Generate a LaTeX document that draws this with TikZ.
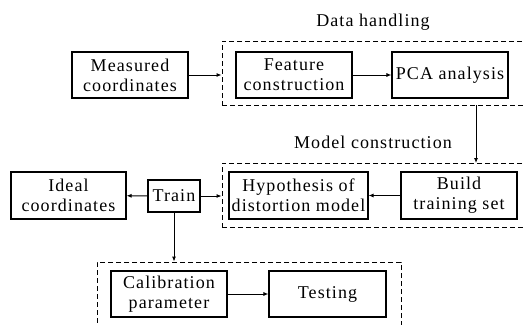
\documentclass[tikz,border=0pt]{standalone}
\usepackage{fontspec}
\setmainfont{Liberation Serif}[LetterSpace=6]
\usetikzlibrary{arrows.meta}
\tikzset{
    block/.style={shape=rectangle, draw=black, line width=1.1pt, align=center, inner sep=1pt,
        font=\fontsize{18}{20}\selectfont},
    group/.style={shape=rectangle, draw=black, line width=0.9pt, dash pattern=on 5pt off 3pt},
    title/.style={font=\fontsize{18}{20}\selectfont},
    flow/.style={-{Latex[length=5pt,width=4pt]}, line width=0.9pt}
}
\begin{document}
\begin{tikzpicture}[x=1pt, y=-1pt]
    \useasboundingbox (0,0) rectangle (524,324);
    \clip (0,0) rectangle (524,324);
    % dashed groups
    \node[group, minimum width=318pt, minimum height=64pt] (DH) at (381,73) {};
    \node[group, minimum width=318pt, minimum height=64pt] (MC) at (381,195) {};
    \node[group, minimum width=304pt, minimum height=80pt] (CT) at (249,302) {};
    \node[title] (T1) at (373,22) {Data handling};
    \node[title] (T2) at (373,142) {Model construction};
    % blocks
    \node[block, minimum width=116pt, minimum height=46pt] (M) at (130,75) {Measured\\coordinates};
    \node[block, minimum width=116pt, minimum height=46pt] (F) at (294,75) {Feature\\construction};
    \node[block, minimum width=116pt, minimum height=46pt] (P) at (450,75) {PCA analysis};
    \node[block, minimum width=115pt, minimum height=47pt] (I) at (68.5,195.5) {Ideal\\coordinates};
    \node[block, minimum width=52pt, minimum height=32pt] (T) at (174,196) {Train};
    \node[block, minimum width=139pt, minimum height=47pt] (H) at (298.5,195.5) {Hypothesis of\\distortion model};
    \node[block, minimum width=116pt, minimum height=47pt] (B) at (459,195.5) {Build\\training set};
    \node[block, minimum width=116pt, minimum height=46pt] (C) at (169,294) {Calibration\\parameter};
    \node[block, minimum width=117pt, minimum height=46pt] (E) at (327.5,294) {Testing};
    \coordinate (a1) at (476,105);
    \coordinate (a2) at (476,163);
    % arrows
    \path [flow] (M) edge (M.east -| DH.west);
    \path [flow] (F) edge (P);
    \path [flow] (a1) edge (a2);
    \path [flow] (B) edge (H);
    \path [flow] (T) edge (I);
    \path [flow] (T) edge (T.east -| MC.west);
    \path [flow] (T) edge (T.south |- CT.north);
    \path [flow] (C) edge (E);
\end{tikzpicture}
\end{document}
